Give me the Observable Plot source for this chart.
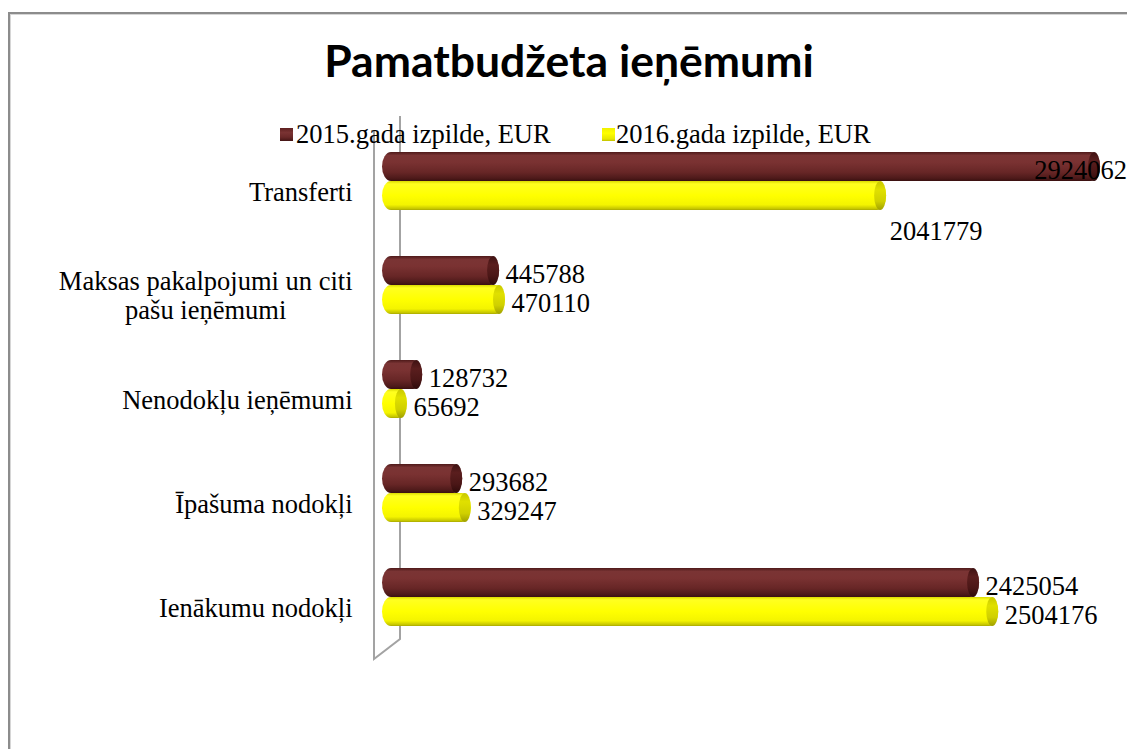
<!DOCTYPE html>
<html><head><meta charset="utf-8">
<script src="https://cdn.jsdelivr.net/npm/d3@7"></script>
<script src="https://cdn.jsdelivr.net/npm/@observablehq/plot@0.6"></script>
<style>
html,body{margin:0;padding:0;background:#fff;overflow:hidden;}
#wrap{position:relative;width:1127px;height:749px;overflow:hidden;background:#fff;}
#frame{position:absolute;left:8px;top:12px;width:1300px;height:900px;border-left:2px solid #8c8c8c;border-top:2px solid #8c8c8c;box-shadow:inset 1px 1px 0 #d6d6d6;}
#chart{position:absolute;left:0;top:0;}
#title{position:absolute;left:569px;top:38px;transform:translateX(-50%);font-family:Lato,'Open Sans',sans-serif;font-weight:700;font-size:44.5px;line-height:1;white-space:nowrap;color:#000;}
.lg{position:absolute;font-family:'Liberation Serif','Times New Roman',serif;font-size:26.5px;line-height:1;white-space:nowrap;color:#000;}
.sw{position:absolute;width:13px;height:13px;}
</style></head><body>
<div id="wrap"><div id="frame"></div><div id="chart"></div><div id="title"></div><div id="legend"></div></div>
<script>
const title = "Pamatbudžeta ieņēmumi";
const categories = [
  "Transferti",
  "Maksas pakalpojumi un citi\npašu ieņēmumi",
  "Nenodokļu ieņēmumi",
  "Īpašuma nodokļi",
  "Ienākumu nodokļi"
];
const series = ["2015.gada izpilde, EUR", "2016.gada izpilde, EUR"];
const values2015 = [2924062, 445788, 128732, 293682, 2425054];
const values2016 = [2041779, 470110, 65692, 329247, 2504176];

// layout / style
const W = 1127, H = 749, ML = 391, MR = 8.5, MT = 152, MB = 122, XMAX = 3000000;
const FONT = "'Liberation Serif','Times New Roman',serif";
const FS = 26.5;
const legendSwatch = ["linear-gradient(#5e2020,#7a3333 35%,#6a2828 70%,#441515)", "linear-gradient(#f0f000,#ffff00 40%,#e6e600 85%,#c0c000)"];

const data = [];
categories.forEach((c, i) => {
  data.push({category: c, series: series[0], value: values2015[i]});
  data.push({category: c, series: series[1], value: values2016[i]});
});

const cvs = document.createElement("canvas").getContext("2d");
cvs.font = `${FS}px 'Liberation Serif'`;
const tw = s => cvs.measureText(s).width;
const px = v => ML + v / XMAX * (W - ML - MR);
const LDX = 6;
// overflow: label would pass the right edge
const overflowCats = new Set(data.filter(d => d.series === series[0] && px(d.value) + LDX + tw(String(d.value)) > W).map(d => d.category));
const isOverflow = d => d.series === series[0] && overflowCats.has(d.category);
const isBelow = d => d.series === series[1] && overflowCats.has(d.category);
const isNormal = d => !isOverflow(d) && !isBelow(d);

const d15 = data.filter(d => d.series === series[0]);
const d16 = data.filter(d => d.series === series[1]);

const labelMarks = categories.map(c => {
  const w = Math.max(...c.split("\n").map(tw));
  return Plot.text([c], {fy: d => d, text: d => d, frameAnchor: "left", textAnchor: "middle",
    dx: -(391 - 352) - w / 2, dy: 10, lineHeight: 1.094, fontSize: FS, fontFamily: FONT, fill: "#000"});
});

const barOpts = {fy: "category", y: "series", x: "value", insetLeft: -9, rx: 9, ry: 14.5};
const capOpts = {fy: "category", y: "series", x1: "value", x2: "value", insetLeft: -12, insetRight: 0, rx: 6, ry: 14.5};
const txt = {fy: "category", y: "series", text: d => String(d.value), fontSize: FS, fontFamily: FONT, fill: "#000"};

const chart = Plot.plot({
  width: W, height: H,
  marginLeft: ML, marginRight: MR, marginTop: MT, marginBottom: MB,
  style: {background: "transparent", overflow: "visible"},
  x: {domain: [0, XMAX], axis: null},
  fy: {domain: categories, paddingInner: 0.442, paddingOuter: 0, axis: null},
  y: {domain: series, padding: 0, axis: null},
  marks: [
    Plot.barX(d15, {...barOpts, fill: "url(#g15)"}),
    Plot.barX(d15, {...capOpts, fill: "url(#c15)"}),
    Plot.barX(d16, {...barOpts, fill: "url(#g16)"}),
    Plot.barX(d16, {...capOpts, fill: "url(#c16)"}),
    Plot.text(data.filter(isNormal), {...txt, x: "value", textAnchor: "start", dx: LDX, dy: 4}),
    Plot.text(data.filter(isOverflow), {...txt, frameAnchor: "right", textAnchor: "end", dx: 8, dy: 4}),
    Plot.text(data.filter(isBelow), {...txt, x: "value", textAnchor: "start", dx: 3, dy: 36}),
    ...labelMarks
  ]
});

// gradients
const ns = "http://www.w3.org/2000/svg";
function grad(id, stops) {
  const g = document.createElementNS(ns, "linearGradient");
  g.setAttribute("id", id);
  g.setAttribute("x1", 0); g.setAttribute("y1", 0); g.setAttribute("x2", 0); g.setAttribute("y2", 1);
  stops.forEach(([o, c]) => {
    const s = document.createElementNS(ns, "stop");
    s.setAttribute("offset", o); s.setAttribute("stop-color", c);
    g.appendChild(s);
  });
  return g;
}
const defs = document.createElementNS(ns, "defs");
defs.appendChild(grad("g15", [[0, "#4e1a1a"], [0.12, "#7a3434"], [0.35, "#7a3232"], [0.7, "#672626"], [0.9, "#4e1a1a"], [1, "#3a1010"]]));
defs.appendChild(grad("c15", [[0, "#3e1212"], [0.3, "#5a1e1e"], [0.7, "#4a1616"], [1, "#2e0a0a"]]));
defs.appendChild(grad("g16", [[0, "#dada00"], [0.1, "#ffff20"], [0.5, "#ffff00"], [0.82, "#f4f400"], [0.95, "#c8c800"], [1, "#a8a800"]]));
defs.appendChild(grad("c16", [[0, "#c8c800"], [0.3, "#e0e000"], [0.7, "#d0d000"], [1, "#a0a000"]]));
chart.insertBefore(defs, chart.firstChild);

// back wall of the 3D plot area
const x0 = chart.scale("x").apply(0);
const fy = chart.scale("fy");
const top0 = fy.apply(categories[0]);
const bot = fy.apply(categories[categories.length - 1]) + fy.bandwidth;
const wall = document.createElementNS(ns, "path");
const xf = x0 - 17, xb = x0 + 9;
wall.setAttribute("d", `M${xf},${top0 - 22}V${bot + 33}L${xb},${bot + 13}V${top0 - 36}`);
wall.setAttribute("fill", "none");
wall.setAttribute("stroke", "#a3a3a3");
wall.setAttribute("stroke-width", 2);
chart.insertBefore(wall, defs.nextSibling);

document.getElementById("chart").appendChild(chart);
document.getElementById("title").textContent = title;

// legend
const lg = document.getElementById("legend");
const legendPos = [{sq: 280, tx: 296}, {sq: 602, tx: 616}];
series.forEach((s, i) => {
  const sw = document.createElement("div");
  sw.className = "sw";
  sw.style.left = legendPos[i].sq + "px"; sw.style.top = "128px";
  sw.style.background = legendSwatch[i];
  lg.appendChild(sw);
  const t = document.createElement("div");
  t.className = "lg";
  t.style.left = legendPos[i].tx + "px"; t.style.top = "121px";
  t.textContent = s;
  lg.appendChild(t);
});
</script>
</body></html>
